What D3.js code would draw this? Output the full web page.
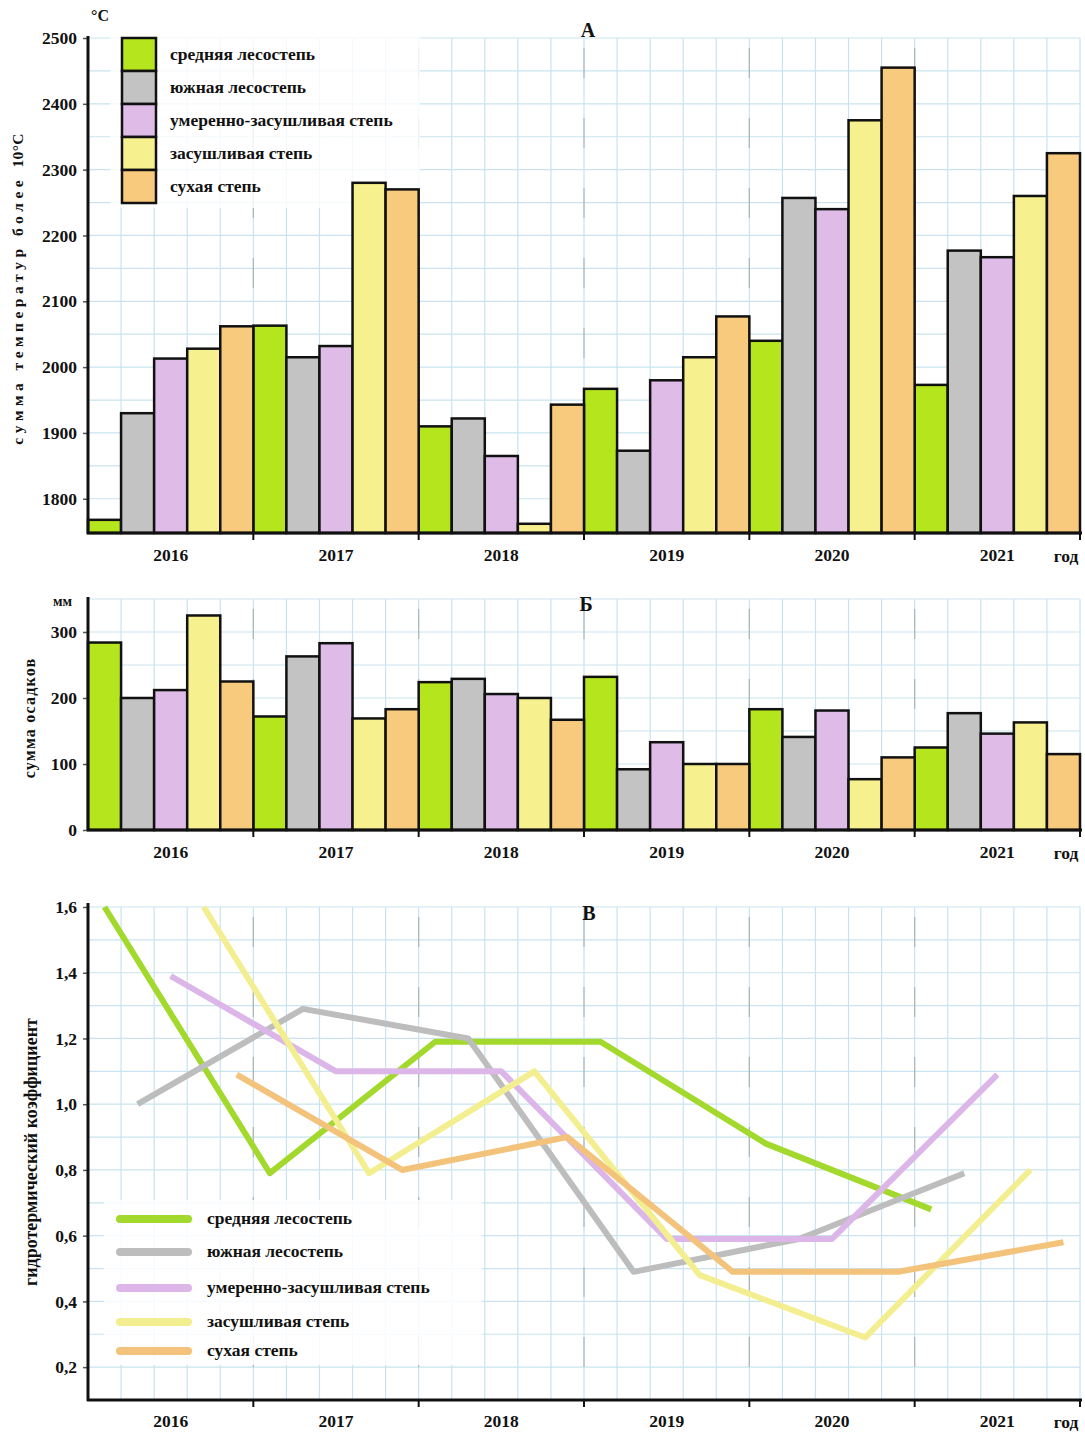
<!DOCTYPE html>
<html><head><meta charset="utf-8">
<script src="https://cdn.jsdelivr.net/npm/d3@7"></script>
<style>
body{margin:0;background:#fff}
text{font-family:"Liberation Serif","Times New Roman",serif;font-weight:bold;fill:#111}
</style>
</head><body>
<svg id="chart" width="1085" height="1434"></svg>
<script>
// ---------- DATA ----------
const years = ["2016","2017","2018","2019","2020","2021"];
const zones = ["средняя лесостепь","южная лесостепь","умеренно-засушливая степь","засушливая степь","сухая степь"];
// A: сумма температур более 10°С
const tempMid      = [1768, 2063, 1910, 1967, 2040, 1973];
const tempSouth    = [1930, 2015, 1922, 1873, 2257, 2177];
const tempModerate = [2013, 2032, 1865, 1980, 2240, 2167];
const tempArid     = [2028, 2280, 1762, 2015, 2375, 2260];
const tempDry      = [2062, 2270, 1943, 2077, 2455, 2325];
// Б: сумма осадков, мм
const precMid      = [284, 172, 224, 232, 183, 125];
const precSouth    = [200, 263, 229,  92, 141, 177];
const precModerate = [212, 283, 206, 133, 181, 146];
const precArid     = [325, 169, 200, 100,  77, 163];
const precDry      = [225, 183, 167, 100, 110, 115];
// В: гидротермический коэффициент
const htcMid      = [1.60, 0.79, 1.19, 1.19, 0.88, 0.68];
const htcSouth    = [1.00, 1.29, 1.20, 0.49, 0.59, 0.79];
const htcModerate = [1.39, 1.10, 1.10, 0.59, 0.59, 1.09];
const htcArid     = [1.60, 0.79, 1.10, 0.48, 0.29, 0.80];
const htcDry      = [1.09, 0.80, 0.90, 0.49, 0.49, 0.58];
// tick labels
const ticksA = [1800, 1900, 2000, 2100, 2200, 2300, 2400, 2500];
const ticksB = [0, 100, 200, 300];
const ticksC = [0.2, 0.4, 0.6, 0.8, 1.0, 1.2, 1.4, 1.6];

const tempSeries = [tempMid, tempSouth, tempModerate, tempArid, tempDry];
const precSeries = [precMid, precSouth, precModerate, precArid, precDry];
const htcSeries  = [htcMid, htcSouth, htcModerate, htcArid, htcDry];

const barColors  = ["#b5e61d", "#c3c3c3", "#dfbbe8", "#f6f18e", "#f8ca7d"];
const lineColors = ["#a2d92c", "#bdbdbd", "#dcb6e8", "#f3ef90", "#f3c27b"];
const gridColor = "#c9e3f0";
const FS = 17.5;

// ---------- SCALES ----------
const svg = d3.select("#chart");
const X0 = 88, X1 = 1080;
const x0 = d3.scaleBand().domain(years).range([X0, X1]).padding(0);
const x1 = d3.scaleBand().domain(d3.range(zones.length)).range([0, x0.bandwidth()]).padding(0);
const bw = x1.bandwidth();

const yA = d3.scaleLinear().domain([1748, 2500]).range([533, 38]);
const yB = d3.scaleLinear().domain([0, 353]).range([830, 597]);
const yC = d3.scaleLinear().domain([0.1, 1.6]).range([1400, 907]);

function grid(y, step, top, bottom) {
  const g = svg.append("g");
  const edges = [];
  years.forEach(yr => zones.forEach((z, i) => edges.push(x0(yr) + x1(i))));
  edges.push(X1);
  g.selectAll("line.v").data(edges).join("line")
    .attr("x1", d => d).attr("x2", d => d).attr("y1", y(top)).attr("y2", y(bottom))
    .attr("stroke", gridColor).attr("stroke-width", 1.2);
  const hs = d3.range(bottom, top + 1e-9, step);
  g.selectAll("line.h").data(hs).join("line")
    .attr("x1", X0).attr("x2", X1).attr("y1", d => y(d)).attr("y2", d => y(d))
    .attr("stroke", gridColor).attr("stroke-width", 1.2);
  g.selectAll("line.s").data(years.slice(1)).join("line")
    .attr("x1", d => x0(d)).attr("x2", d => x0(d))
    .attr("y1", y(top) + 10).attr("y2", y(bottom) - 10)
    .attr("stroke", "#9a9a9a").attr("stroke-width", 1.3).attr("stroke-dasharray", "30 40")
    .attr("opacity", 0.6);
}

function yAxis(y, ticks, fmt, top) {
  const ax = d3.axisLeft(y).tickValues(ticks).tickFormat(fmt).tickSize(5).tickSizeOuter(0).tickPadding(6);
  const g = svg.append("g").attr("transform", `translate(${X0},0)`).call(ax);
  g.select(".domain").remove();
  g.append("line").attr("x1", 0).attr("x2", 0).attr("y1", top).attr("y2", y.range()[0] + 1)
    .attr("stroke", "#111").attr("stroke-width", 3);
  g.selectAll(".tick line").attr("stroke", "#555").attr("stroke-width", 1.5);
  g.selectAll(".tick text").attr("font-size", FS).attr("fill", "#111")
    .attr("font-family", '"Liberation Serif",serif').attr("font-weight", "bold");
}

function xAxis(yBase, labelOffset) {
  const ax = d3.axisBottom(x0).tickSize(0).tickPadding(labelOffset);
  const g = svg.append("g").attr("transform", `translate(0,${yBase})`).call(ax);
  g.select(".domain").remove();
  g.append("line").attr("x1", X0 - 1).attr("x2", X1 + 2).attr("y1", 0).attr("y2", 0)
    .attr("stroke", "#111").attr("stroke-width", 3);
  g.selectAll(".tick text").attr("font-size", FS).attr("fill", "#111")
    .attr("font-family", '"Liberation Serif",serif').attr("font-weight", "bold");
  g.selectAll("line.b").data(years.slice(1).concat(["end"])).join("line")
    .attr("x1", d => d === "end" ? X1 : x0(d)).attr("x2", d => d === "end" ? X1 : x0(d))
    .attr("y1", 0).attr("y2", 7).attr("stroke", "#111").attr("stroke-width", 2);
  g.append("text").attr("x", 1066).attr("y", labelOffset + 13).attr("text-anchor", "middle")
    .attr("font-size", FS).text("год");
}

function bars(y, series, base) {
  series.forEach((vals, i) => {
    svg.append("g").selectAll("rect").data(vals).join("rect")
      .attr("x", (d, j) => x0(years[j]) + x1(i))
      .attr("y", d => y(d))
      .attr("width", bw)
      .attr("height", d => y(base) - y(d))
      .attr("fill", barColors[i])
      .attr("stroke", "#111").attr("stroke-width", 2.5);
  });
}

// ---------- PANEL A ----------
grid(yA, 50, 2500, 1750);
svg.append("rect").attr("x", 110).attr("y", 36).attr("width", 310).attr("height", 172).attr("fill", "#fff").attr("opacity", 0.8);
bars(yA, tempSeries, 1748);
yAxis(yA, ticksA, d => d, 36);
xAxis(533, 16);
svg.append("text").attr("x", 91).attr("y", 21).attr("font-size", 16).text("°С");
svg.append("text").attr("x", 588).attr("y", 37).attr("text-anchor", "middle").attr("font-size", 20).text("А");
svg.append("text").attr("transform", "translate(23,289) rotate(-90)").attr("text-anchor", "middle")
  .attr("font-size", 15.5).attr("letter-spacing", 0.3).style("white-space", "pre")
  .text("с у м м а   т е м п е р а т у р   б о л е е   10°С");
// legend A
const legA = svg.append("g");
zones.forEach((z, i) => {
  legA.append("rect").attr("x", 122).attr("y", yA(2500) + i * 33).attr("width", 34).attr("height", 33)
    .attr("fill", barColors[i]).attr("stroke", "#111").attr("stroke-width", 2.5);
  legA.append("text").attr("x", 170).attr("y", yA(2500) + i * 33 + 22).attr("font-size", FS).text(z);
});

// ---------- PANEL Б ----------
grid(yB, 50, 350, 0);
bars(yB, precSeries, 0);
yAxis(yB, ticksB, d => d, 597);
xAxis(830, 16);
svg.append("text").attr("x", 53).attr("y", 606).attr("font-size", 14).text("мм");
svg.append("text").attr("x", 586).attr("y", 611).attr("text-anchor", "middle").attr("font-size", 20).text("Б");
svg.append("text").attr("transform", "translate(35,718) rotate(-90)").attr("text-anchor", "middle")
  .attr("font-size", 16).attr("letter-spacing", 1.2).text("сумма осадков");

// ---------- PANEL В ----------
grid(yC, 0.1, 1.6, 0.1);
const line = d3.line().x(d => d.x).y(d => yC(d.v));
htcSeries.forEach((vals, i) => {
  const pts = vals.map((v, j) => ({ x: x0(years[j]) + x1(i) + bw / 2, v }));
  svg.append("path").datum(pts).attr("d", line).attr("fill", "none")
    .attr("stroke", lineColors[i]).attr("stroke-width", 6).attr("stroke-linejoin", "round");
});
yAxis(yC, ticksC, d => d3.format(".1f")(d).replace(".", ","), 903);
xAxis(1400, 15);
svg.append("text").attr("x", 589).attr("y", 920).attr("text-anchor", "middle").attr("font-size", 20).text("В");
svg.append("text").attr("transform", "translate(37,1152) rotate(-90)").attr("text-anchor", "middle")
  .attr("font-size", 18).text("гидротермический коэффициент");
// legend C
const legC = svg.append("g");
legC.append("rect").attr("x", 104).attr("y", 1200).attr("width", 378).attr("height", 165).attr("fill", "#fff").attr("opacity", 0.85);
const legCy = [1219, 1252, 1288, 1322, 1351];
zones.forEach((z, i) => {
  legC.append("line").attr("x1", 120).attr("x2", 188).attr("y1", legCy[i]).attr("y2", legCy[i])
    .attr("stroke", lineColors[i]).attr("stroke-width", 8).attr("stroke-linecap", "round");
  legC.append("text").attr("x", 207).attr("y", legCy[i] + 5).attr("font-size", FS).text(z);
});
</script>
</body></html>
